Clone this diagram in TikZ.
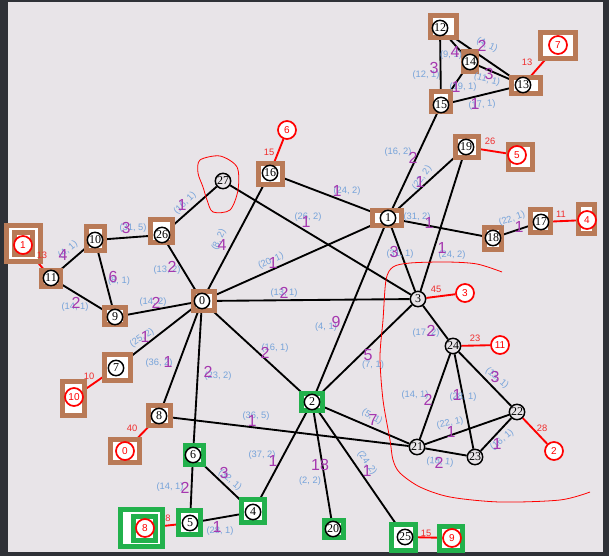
\documentclass[tikz,border=0pt]{standalone}
\usepackage{fontspec}
\setmainfont{Liberation Serif}
\setsansfont{Liberation Sans}
\usepackage{xcolor}
\usepackage{tikz}
\pgfdeclarelayer{back}
\pgfdeclarelayer{edges}
\pgfsetlayers{back,edges,main}
\definecolor{panebg}{RGB}{232,228,232}
\definecolor{framedark}{RGB}{47,49,55}
\definecolor{boxbrown}{RGB}{185,122,87}
\definecolor{boxgreen}{RGB}{34,177,76}
\definecolor{wtblue}{RGB}{118,163,218}
\definecolor{cntpurple}{RGB}{165,55,175}
\definecolor{rwred}{RGB}{240,45,45}

\begin{document}
\begin{tikzpicture}[
    x=0.75pt, y=-0.75pt, % one unit = one pixel of the reference
    vtx/.style={circle, draw=black, fill=white, line width=1.1pt, inner sep=0pt,
                minimum size=11.5pt, font=\fontsize{9}{9}\selectfont},
    plainvtx/.style={vtx, fill=panebg},
    rvtx/.style={circle, draw=red, fill=white, line width=1.3pt, inner sep=0pt,
                 minimum size=13.5pt, text=red, font=\sffamily\fontsize{7.5}{7.5}\selectfont},
    bbox/.style={rectangle, draw=boxbrown, fill=white, line width=3.75pt, inner sep=0pt},
    gbox/.style={bbox, draw=boxgreen},
    link/.style={line width=1.4pt},
    rlink/.style={red, line width=1.4pt},
    wt/.style={text=wtblue, font=\sffamily\fontsize{7}{7}\selectfont, inner sep=0pt},
    cnt/.style={text=cntpurple, font=\sffamily\fontsize{12}{12}\selectfont, inner sep=0pt},
    rw/.style={text=rwred, font=\sffamily\fontsize{7}{7}\selectfont, inner sep=0pt},
    scrawl/.style={red, line width=0.6pt}
]
\useasboundingbox (0,0) rectangle (609,556);
\begin{pgfonlayer}{back}
\fill[framedark] (0,0) rectangle (609,556);
\fill[panebg] (8,2) rectangle (603,552);
\end{pgfonlayer}

% boxes
\node[bbox, minimum width=19.5pt, minimum height=16.5pt] (b12) at (443,27) {};
\node[bbox, minimum width=9.75pt, minimum height=15pt] (b14) at (470,62) {};
\node[bbox, minimum width=14.25pt, minimum height=15pt] (b15) at (441,102) {};
\node[bbox, minimum width=21.75pt, minimum height=12pt] (b13) at (526,86) {};
\node[bbox, minimum width=26.25pt, minimum height=19.5pt] (bq7) at (558,46) {};
\node[bbox, minimum width=18pt, minimum height=15.75pt] (b16) at (270,174) {};
\node[bbox, minimum width=21.75pt, minimum height=11.25pt] (b1) at (387,218) {};
\node[bbox, minimum width=17.25pt, minimum height=15.75pt] (b19) at (467,147) {};
\node[bbox, minimum width=18pt, minimum height=18.75pt] (bq5) at (520,157) {};
\node[bbox, minimum width=12.75pt, minimum height=16.5pt] (b18) at (493,238) {};
\node[bbox, minimum width=15pt, minimum height=17.25pt] (b17) at (540,221) {};
\node[bbox, minimum width=12pt, minimum height=21.75pt] (bq4) at (586,219) {};
\node[bbox, minimum width=25.5pt, minimum height=27pt] (bq1) at (23.5,243.5) {};
\node[bbox, minimum width=13.5pt, minimum height=16.5pt] (bq1i) at (23.5,243.5) {};
\node[bbox, minimum width=14.25pt, minimum height=12pt] (b11) at (51,278) {};
\node[bbox, minimum width=13.5pt, minimum height=18pt] (b10) at (95,238) {};
\node[bbox, minimum width=16.5pt, minimum height=17.25pt] (b26) at (161,231) {};
\node[bbox, minimum width=15.75pt, minimum height=12.75pt] (b9) at (115,316) {};
\node[bbox, minimum width=15.75pt, minimum height=14.25pt] (b0) at (204,301) {};
\node[bbox, minimum width=19.5pt, minimum height=19.5pt] (b7) at (117,367) {};
\node[bbox, minimum width=16.5pt, minimum height=25.5pt] (bq10) at (73,398) {};
\node[bbox, minimum width=16.5pt, minimum height=15pt] (b8) at (159,415) {};
\node[bbox, minimum width=21.75pt, minimum height=17.25pt] (bq0) at (125,451) {};
\node[gbox, minimum width=15.75pt, minimum height=12.75pt] (b2) at (312,402) {};
\node[gbox, minimum width=13.5pt, minimum height=14.25pt] (b6) at (194,455) {};
\node[gbox, minimum width=16.5pt, minimum height=18pt] (b5) at (189,522) {};
\node[gbox, minimum width=17.25pt, minimum height=17.25pt] (b4) at (253,511) {};
\node[gbox, minimum width=14.25pt, minimum height=12.75pt] (b20) at (334,529) {};
\node[gbox, minimum width=18pt, minimum height=19.5pt] (b25) at (403,537) {};
\node[gbox, minimum width=17.25pt, minimum height=18pt] (bq9) at (451,538) {};
\node[gbox, minimum width=31.5pt, minimum height=27.75pt] (bq8) at (141.5,528) {};
\node[gbox, minimum width=16.5pt, minimum height=18pt] (bq8i) at (144.5,528.5) {};

% graph vertices
\node[vtx] (v0) at (202,301) {0};
\node[vtx] (v1) at (388,218) {1};
\node[vtx] (v2) at (312,402) {2};
\node[plainvtx] (v3) at (418,299) {3};
\node[vtx] (v4) at (253,512) {4};
\node[vtx] (v5) at (190,523) {5};
\node[vtx] (v6) at (193,455) {6};
\node[vtx] (v7) at (116,368) {7};
\node[vtx] (v8) at (159,416) {8};
\node[vtx] (v9) at (115,317) {9};
\node[vtx] (v10) at (95,240) {10};
\node[vtx] (v11) at (51,278) {11};
\node[vtx] (v12) at (440,28) {12};
\node[vtx] (v13) at (523,85) {13};
\node[vtx] (v14) at (470,62) {14};
\node[vtx] (v15) at (441,105) {15};
\node[vtx] (v16) at (270,173) {16};
\node[vtx] (v17) at (541,222) {17};
\node[vtx] (v18) at (493,238) {18};
\node[vtx] (v19) at (466,147) {19};
\node[vtx] (v20) at (333,529) {20};
\node[plainvtx] (v21) at (417,447) {21};
\node[plainvtx] (v22) at (517,412) {22};
\node[plainvtx] (v23) at (475,457) {23};
\node[plainvtx] (v24) at (453,346) {24};
\node[vtx] (v25) at (405,537) {25};
\node[vtx] (v26) at (162,235) {26};
\node[plainvtx] (v27) at (223,181) {27};

% red vertices
\node[rvtx] (q0) at (125,451) {0};
\node[rvtx] (q1) at (23,245) {1};
\node[rvtx] (q2) at (554,451) {2};
\node[rvtx] (q3) at (465,293) {3};
\node[rvtx] (q4) at (587,220) {4};
\node[rvtx] (q5) at (517,155) {5};
\node[rvtx] (q6) at (287,130) {6};
\node[rvtx] (q7) at (558,45) {7};
\node[rvtx] (q8) at (145,528) {8};
\node[rvtx] (q9) at (452,538) {9};
\node[rvtx] (q10) at (74,397) {10};
\node[rvtx] (q11) at (500,345) {11};

\begin{pgfonlayer}{edges}
\draw[link] (v12) -- (v15);
\draw[link] (v12) -- (v14);
\draw[link] (v12) -- (v13);
\draw[link] (v14) -- (v13);
\draw[link] (v14) -- (v15);
\draw[link] (v15) -- (v13);
\draw[link] (v15) -- (v1);
\draw[link] (v1) -- (v19);
\draw[link] (v16) -- (v1);
\draw[link] (v1) -- (v18);
\draw[link] (v1) -- (v3);
\draw[link] (v1) -- (v0);
\draw[link] (v1) -- (v2);
\draw[link] (v19) -- (v3);
\draw[link] (v18) -- (v17);
\draw[link] (v0) -- (v16);
\draw[link] (v26) -- (v27);
\draw[link] (v27) -- (v3);
\draw[link] (v10) -- (v26);
\draw[link] (v10) -- (v11);
\draw[link] (v10) -- (v9);
\draw[link] (v11) -- (v9);
\draw[link] (v9) -- (v0);
\draw[link] (v26) -- (v0);
\draw[link] (v0) -- (v3);
\draw[link] (v0) -- (v7);
\draw[link] (v0) -- (v8);
\draw[link] (v0) -- (v6);
\draw[link] (v0) -- (v2);
\draw[link] (v8) -- (v21);
\draw[link] (v6) -- (v5);
\draw[link] (v6) -- (v4);
\draw[link] (v5) -- (v4);
\draw[link] (v4) -- (v2);
\draw[link] (v2) -- (v20);
\draw[link] (v2) -- (v25);
\draw[link] (v2) -- (v21);
\draw[link] (v2) -- (v3);
\draw[link] (v3) -- (v24);
\draw[link] (v24) -- (v21);
\draw[link] (v24) -- (v23);
\draw[link] (v24) -- (v22);
\draw[link] (v21) -- (v22);
\draw[link] (v21) -- (v23);
\draw[link] (v23) -- (v22);
% red links
\draw[rlink] (q3) -- (v3);
\draw[rlink] (q11) -- (v24);
\draw[rlink] (q2) -- (v22);
\draw[rlink] (q9) -- (v25);
\draw[rlink] (q8) -- (v5);
\draw[rlink] (q0) -- (v8);
\draw[rlink] (q10) -- (v7);
\draw[rlink] (q1) -- (v11);
\draw[rlink] (q6) -- (v16);
\draw[rlink] (q5) -- (v19);
\draw[rlink] (q4) -- (v17);
\draw[rlink] (q7) -- (v13);
\end{pgfonlayer}

% edge labels
\node[wt, rotate=-25] (w1) at (487,45) {(4, 1)};   \node[cnt] (c1) at (482,46) {2};
\node[wt] (w2) at (451,55) {(9, 1)};               \node[cnt] (c2) at (455,52) {4};
\node[wt] (w3) at (426,75) {(12, 1)};              \node[cnt] (c3) at (434,68) {3};
\node[wt, rotate=-15] (w4) at (487,80) {(11, 1)};  \node[cnt] (c4) at (489,74) {3};
\node[wt] (w5) at (463,87) {(19, 1)};              \node[cnt] (c5) at (456,87) {1};
\node[wt, rotate=5] (w6) at (482,105) {(17, 1)};   \node[cnt] (c6) at (475,104) {1};
\node[wt] (w7) at (398,152) {(16, 2)};             \node[cnt] (c7) at (413,158) {2};
\node[wt, rotate=55] (w8) at (422,178) {(22, 2)};  \node[cnt] (c8) at (420,182) {1};
\node[wt] (w9) at (347,191) {(24, 2)};             \node[cnt] (c9) at (337,191) {1};
\node[wt] (w10) at (308,217) {(26, 2)};            \node[cnt] (c10) at (306,222) {1};
\node[wt] (w11) at (417,217) {(31, 2)};            \node[cnt] (c11) at (429,223) {1};
\node[wt, rotate=20] (w12) at (512,219) {(22, 1)}; \node[cnt] (c12) at (519,227) {1};
\node[wt] (w13) at (400,254) {(31, 1)};            \node[cnt] (c13) at (394,252) {3};
\node[wt] (w14) at (452,255) {(24, 2)};            \node[cnt] (c14) at (442,248) {1};
\node[wt, rotate=40] (w15) at (68,250) {(4, 1)};   \node[cnt] (c15) at (63,255) {4};
\node[wt] (w16) at (133,228) {(31, 5)};            \node[cnt] (c16) at (126,228) {3};
\node[wt, rotate=45] (w17) at (185,203) {(16, 1)}; \node[cnt] (c17) at (182,205) {1};
\node[wt, rotate=65] (w18) at (219,240) {(8, 2)};  \node[cnt] (c18) at (222,245) {4};
\node[wt] (w19) at (167,270) {(13, 2)};            \node[cnt] (c19) at (172,267) {2};
\node[wt] (w20) at (119,281) {(8, 1)};             \node[cnt] (c20) at (113,277) {6};
\node[wt] (w21) at (75,307) {(14, 1)};             \node[cnt] (c21) at (76,303) {2};
\node[wt] (w22) at (153,302) {(14, 2)};            \node[cnt] (c22) at (156,303) {2};
\node[wt, rotate=35] (w23) at (142,338) {(25, 2)}; \node[cnt] (c23) at (145,337) {1};
\node[wt] (w24) at (159,363) {(36, 2)};            \node[cnt] (c24) at (168,362) {1};
\node[wt] (w25) at (218,376) {(23, 2)};            \node[cnt] (c25) at (208,372) {2};
\node[wt, rotate=25] (w26) at (271,261) {(20, 1)}; \node[cnt] (c26) at (273,263) {1};
\node[wt] (w27) at (284,293) {(13, 1)};            \node[cnt] (c27) at (284,293) {2};
\node[wt] (w28) at (326,327) {(4, 1)};             \node[cnt] (c28) at (336,322) {9};
\node[wt] (w29) at (275,348) {(16, 1)};            \node[cnt] (c29) at (265,353) {2};
\node[wt] (w30) at (373,365) {(7, 1)};             \node[cnt] (c30) at (368,355) {5};
\node[wt] (w31) at (426,333) {(17, 2)};            \node[cnt] (c31) at (431,331) {2};
\node[wt] (w32) at (415,395) {(14, 1)};            \node[cnt] (c32) at (428,400) {2};
\node[wt] (w33) at (463,397) {(28, 1)};            \node[cnt] (c33) at (457,395) {1};
\node[wt, rotate=-40] (w34) at (497,378) {(13, 1)};\node[cnt] (c34) at (495,377) {3};
\node[wt, rotate=12] (w35) at (450,423) {(22, 1)}; \node[cnt] (c35) at (451,432) {1};
\node[wt, rotate=-5] (w36) at (440,462) {(18, 1)}; \node[cnt] (c36) at (439,463) {2};
\node[wt, rotate=40] (w37) at (502,440) {(16, 1)}; \node[cnt] (c37) at (497,444) {1};
\node[wt] (w38) at (256,416) {(36, 5)};            \node[cnt] (c38) at (252,421) {1};
\node[wt] (w39) at (262,455) {(37, 2)};            \node[cnt] (c39) at (273,461) {1};
\node[wt] (w40) at (170,487) {(14, 1)};            \node[cnt] (c40) at (185,488) {2};
\node[wt, rotate=-40] (w41) at (230,480) {(32, 1)};\node[cnt] (c41) at (224,473) {3};
\node[wt] (w42) at (220,531) {(28, 1)};            \node[cnt] (c42) at (217,527) {1};
\node[wt] (w43) at (310,481) {(2, 2)};             \node[cnt] (c43) at (320,465) {18};
\node[wt, rotate=-55] (w44) at (367,463) {(24, 2)};\node[cnt] (c44) at (367,471) {1};
\node[wt, rotate=-30] (w45) at (372,417) {(5, 1)}; \node[cnt] (c45) at (373,420) {7};

% red weights
\node[rw] (r1) at (527,62) {13};
\node[rw] (r2) at (269,152) {15};
\node[rw] (r3) at (490,141) {26};
\node[rw] (r4) at (561,214) {11};
\node[rw] (r5) at (436,289) {45};
\node[rw] (r6) at (475,338) {23};
\node[rw] (r7) at (542,428) {28};
\node[rw] (r8) at (426,533) {15};
\node[rw] (r9) at (168,518) {8};
\node[rw] (r10) at (132,428) {40};
\node[rw] (r11) at (89,376) {10};
\node[rw] (r12) at (42,255) {13};

% hand-drawn marks
\draw[scrawl] plot[smooth cycle] coordinates {(200,160) (220,156) (237,167) (238,190)
    (230,210) (213,212) (207,200) (203,187) (198,173)};
\draw[scrawl] plot[smooth] coordinates {(502,272) (477,264) (447,262) (410,263)
    (393,267) (386,280) (383,320) (380,357) (383,400) (390,440) (393,460) (400,473)
    (420,487) (450,497) (500,502) (560,500) (590,492)};
\end{tikzpicture}
\end{document}
